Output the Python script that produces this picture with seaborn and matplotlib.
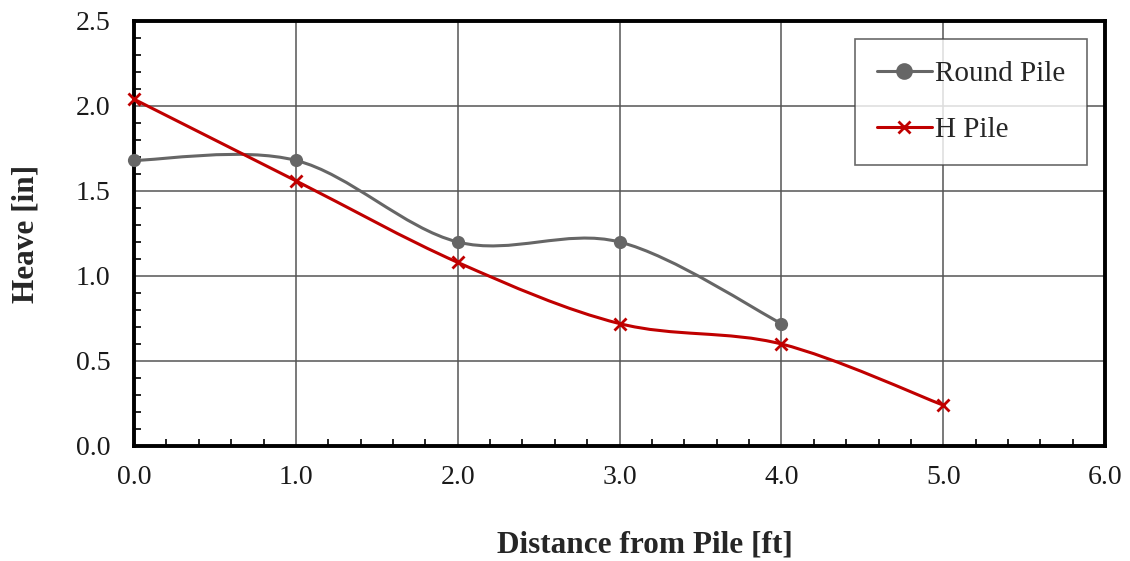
import numpy as np
import seaborn as sns
import matplotlib
matplotlib.use("Agg")
import matplotlib.pyplot as plt
from matplotlib.path import Path
from matplotlib.patches import PathPatch
from matplotlib.lines import Line2D
from matplotlib.ticker import MultipleLocator, FormatStrFormatter

# data
round_x = [0, 1, 2, 3, 4]
round_heave = [1.68, 1.68, 1.20, 1.20, 0.72]
h_x = [0, 1, 2, 3, 4, 5]
h_heave = [2.04, 1.56, 1.08, 0.72, 0.60, 0.24]

series_names = ["Round Pile", "H Pile"]
series_colors = ["#666666", "#C00000"]
series_markers = ["o", "x"]


def smooth_path(xs, ys):
    # Excel-style smoothed line: cubic bezier through the points
    pts = np.column_stack([xs, ys]).astype(float)
    n = len(pts)
    verts = [pts[0]]
    codes = [Path.MOVETO]
    for i in range(n - 1):
        p0 = pts[i - 1] if i > 0 else pts[i]
        p1 = pts[i]
        p2 = pts[i + 1]
        p3 = pts[i + 2] if i + 2 < n else pts[i + 1]
        c1 = p1 + (p2 - p0) / 6.0
        c2 = p2 - (p3 - p1) / 6.0
        verts += [c1, c2, p2]
        codes += [Path.CURVE4] * 3
    return Path(verts, codes)


sns.set_style("white")
plt.rcParams["font.family"] = ["Liberation Serif", "DejaVu Serif"]

fig = plt.figure(figsize=(11.3, 5.61), dpi=100)
ax = fig.add_axes([0.1186, 0.205, 0.8594, 0.7576])

all_x = [round_x, h_x]
all_y = [round_heave, h_heave]
for xs, ys, name, col, mk in zip(all_x, all_y, series_names, series_colors, series_markers):
    patch = PathPatch(smooth_path(xs, ys), facecolor="none", edgecolor=col,
                      lw=2.2, zorder=3, capstyle="round", joinstyle="round")
    ax.add_patch(patch)
    if mk == "o":
        sns.scatterplot(x=xs, y=ys, ax=ax, color=col, marker="o", s=90,
                        edgecolor=col, linewidth=0, zorder=4, clip_on=False)
    else:
        sns.scatterplot(x=xs, y=ys, ax=ax, color=col, marker="x", s=75,
                        linewidth=2, zorder=4, clip_on=False)

ax.set_xlim(0, 6)
ax.set_ylim(0, 2.5)
ax.xaxis.set_major_locator(MultipleLocator(1))
ax.xaxis.set_minor_locator(MultipleLocator(0.2))
ax.yaxis.set_major_locator(MultipleLocator(0.5))
ax.yaxis.set_minor_locator(MultipleLocator(0.1))
ax.xaxis.set_major_formatter(FormatStrFormatter("%.1f"))
ax.yaxis.set_major_formatter(FormatStrFormatter("%.1f"))

ax.grid(True, which="major", color="#555555", lw=1.1)
ax.set_axisbelow(True)
ax.tick_params(which="both", direction="in", color="black", width=1.2,
               bottom=True, left=True, top=False, right=False)
ax.tick_params(which="major", length=0, labelsize=20, colors="#1a1a1a")
ax.tick_params(axis="x", which="major", pad=14)
ax.tick_params(axis="y", which="major", pad=17)
ax.tick_params(which="minor", length=5)

for s in ax.spines.values():
    s.set_color("black")
    s.set_linewidth(2.8)

ax.set_xlabel("Distance from Pile [ft]", fontsize=22.5, fontweight="bold")
ax.xaxis.set_label_coords(0.526, -0.2)
ax.set_ylabel("Heave [in]", fontsize=22.5, fontweight="bold")
ax.yaxis.set_label_coords(-0.096, 0.5)

handles = [Line2D([0], [0], color=c, lw=2.2, marker=m, markersize=10 if m == "o" else 8,
                  markeredgewidth=2) for c, m in zip(series_colors, series_markers)]
leg = ax.legend(handles, series_names, loc="upper right", bbox_to_anchor=(0.9815, 0.9576),
                fontsize=21, frameon=True, fancybox=False, edgecolor="#444444",
                handlelength=1.9, handletextpad=0.1, labelspacing=1.0,
                borderpad=0.75, borderaxespad=0)
leg.get_frame().set_linewidth(1.2)
leg.set_zorder(5)

fig.savefig("out.png", dpi=100, facecolor="white")
